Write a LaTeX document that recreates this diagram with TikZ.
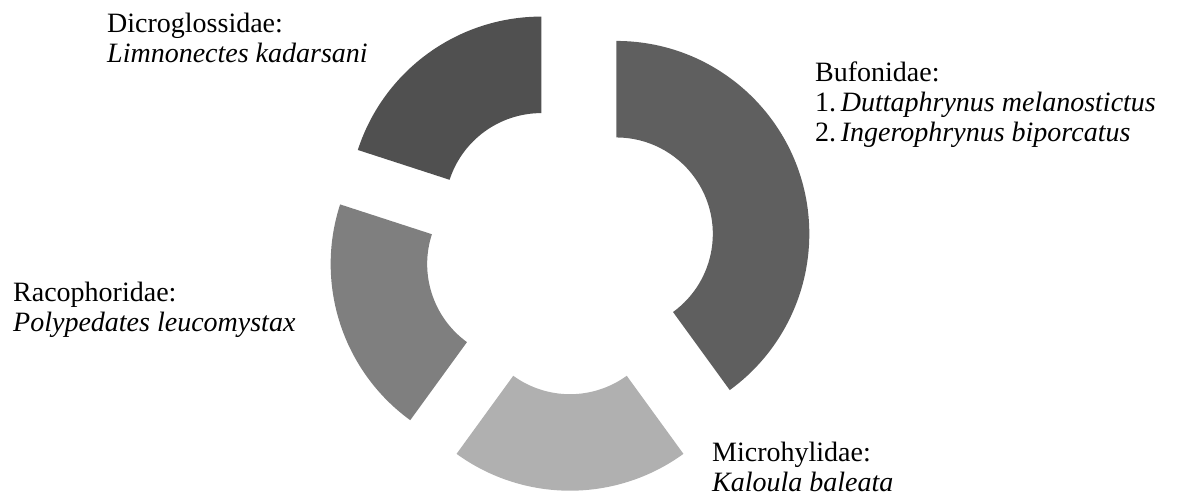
\documentclass[tikz,border=0pt]{standalone}
\usepackage{fontspec}
\setmainfont{Liberation Serif}
\usepackage{tikz}
\usetikzlibrary{calc}
\definecolor{dicrogray}{HTML}{505050}
\definecolor{bufogray}{HTML}{5F5F5F}
\definecolor{racogray}{HTML}{7F7F7F}
\definecolor{microgray}{HTML}{B0B0B0}
\def\ringslice[#1](#2:#3){\begin{scope}[shift={({(#2+#3)/2}:48.7)}]\fill[#1] (#2:193) arc (#2:#3:193) -- (#3:96.5) arc (#3:#2:96.5) -- cycle;\end{scope}}
\tikzset{famlabel/.style={anchor=base west, inner sep=0pt, align=left, font=\fontsize{28}{30}\selectfont}}

\begin{document}
\begin{tikzpicture}[x=1pt, y=1pt]
		%%%%% START %%%%%
		\useasboundingbox (-570, -248) rectangle (608, 249);
		
		\ringslice[bufogray](90:-54);
		\ringslice[microgray](-54:-126);
		\ringslice[racogray](-126:-198);
		\ringslice[dicrogray](-198:-270);
		
		% labels sit on the baseline of their last line
		\node[famlabel] (dicro) at (-463, 186) {Dicroglossidae:\\\textit{Limnonectes kadarsani}};
		\node[famlabel] (bufo) at (245, 107) {Bufonidae:\\1.\,\textit{Duttaphrynus melanostictus}\\2.\,\textit{Ingerophrynus biporcatus}};
		\node[famlabel] (raco) at (-557, -83) {Racophoridae:\\\textit{Polypedates leucomystax}};
		\node[famlabel] (micro) at (142, -243) {Microhylidae:\\\textit{Kaloula baleata}};
		
		%%%%% END %%%%%
\end{tikzpicture}
\end{document}
